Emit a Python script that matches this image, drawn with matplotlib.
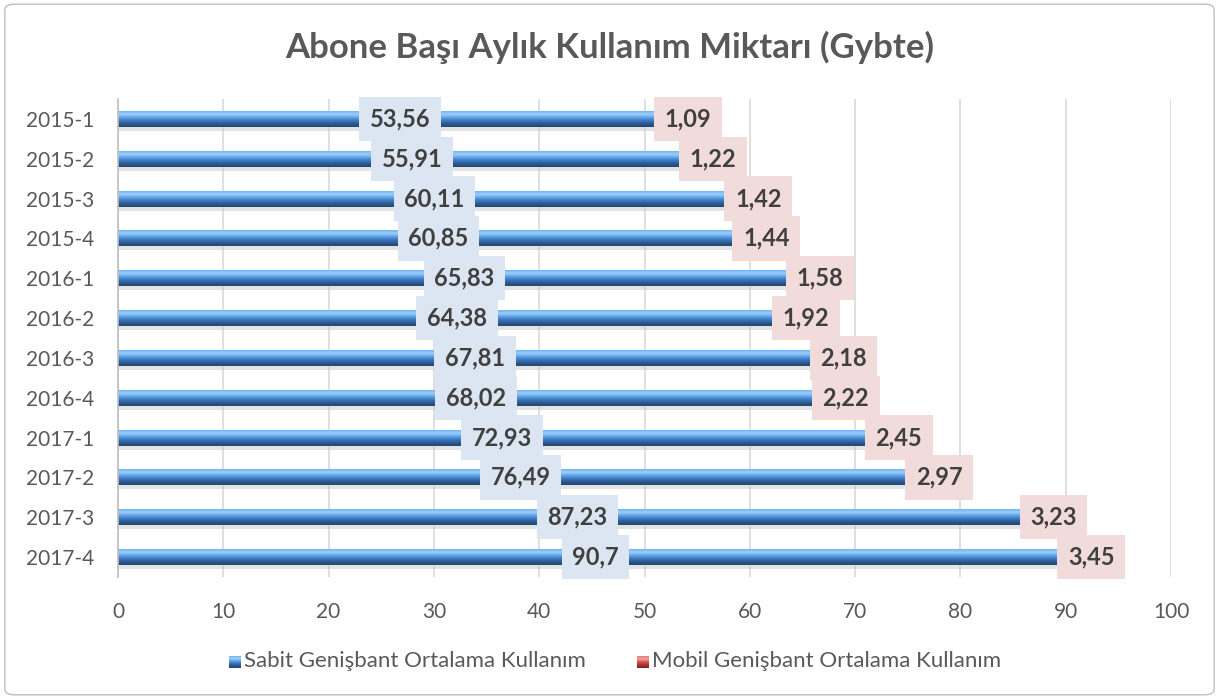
import matplotlib
matplotlib.use("Agg")
import matplotlib.pyplot as plt
import numpy as np
from matplotlib.patches import FancyBboxPatch
from matplotlib.colors import LinearSegmentedColormap

categories = ["2015-1", "2015-2", "2015-3", "2015-4", "2016-1", "2016-2",
              "2016-3", "2016-4", "2017-1", "2017-2", "2017-3", "2017-4"]
sabit = [53.56, 55.91, 60.11, 60.85, 65.83, 64.38, 67.81, 68.02, 72.93, 76.49, 87.23, 90.7]
mobil = [1.09, 1.22, 1.42, 1.44, 1.58, 1.92, 2.18, 2.22, 2.45, 2.97, 3.23, 3.45]
sabit_labels = ["53,56", "55,91", "60,11", "60,85", "65,83", "64,38",
                "67,81", "68,02", "72,93", "76,49", "87,23", "90,7"]
mobil_labels = ["1,09", "1,22", "1,42", "1,44", "1,58", "1,92",
                "2,18", "2,22", "2,45", "2,97", "3,23", "3,45"]
xticks = [0, 10, 20, 30, 40, 50, 60, 70, 80, 90, 100]
title = "Abone Başı Aylık Kullanım Miktarı (Gybte)"
legend_labels = ["Sabit Genişbant Ortalama Kullanım", "Mobil Genişbant Ortalama Kullanım"]

plt.rcParams['font.family'] = ['Lato', 'DejaVu Sans']

fig = plt.figure(figsize=(12.19, 6.99), dpi=100)
W, H = 1219, 699
ax = fig.add_axes([118 / W, 1 - 577 / H, (1171 - 118) / W, (577 - 99) / H])

# figure border
fig.patches.append(FancyBboxPatch((0.004, 0.006), 0.992, 0.988,
                                  boxstyle="round,pad=0,rounding_size=0.008",
                                  transform=fig.transFigure, fill=False,
                                  edgecolor="#bfbfbf", linewidth=1.0))

y = np.arange(len(categories))
bh = 0.40

blue_cmap = LinearSegmentedColormap.from_list(
    "b", ["#6fb3f2", "#9fd0fa", "#5fa2e6", "#3c79c0", "#2b5a92", "#24456e"])
red_cmap = LinearSegmentedColormap.from_list(
    "r", ["#e87a78", "#f4a09e", "#d0504d", "#a83330", "#7a2220"])
grad = np.linspace(0, 1, 64).reshape(-1, 1)

# shadow
ax.barh(y + 0.10, sabit, height=bh, color="#c8c8c8", alpha=0.5, zorder=1.5,
        linewidth=0)
bars = ax.barh(y, sabit, height=bh, color="#4a8cd6", zorder=2, linewidth=0)
mbars = ax.barh(y, mobil, left=sabit, height=bh, color="#c0504d", zorder=2,
                linewidth=0)

for patches, cmap in ((bars, blue_cmap), (mbars, red_cmap)):
    for p in patches:
        x0, y0 = p.get_x(), p.get_y()
        w, h = p.get_width(), p.get_height()
        im = ax.imshow(grad, extent=(x0, x0 + w, y0 + h, y0), aspect="auto",
                       cmap=cmap, zorder=2.1, interpolation="bicubic")
        im.set_clip_path(p)

ax.set_xlim(0, 100)
ax.set_ylim(len(categories) - 0.5, -0.5)
ax.set_xticks(xticks)
ax.set_xticklabels([str(t) for t in xticks])
ax.set_yticks(y)
ax.set_yticklabels(categories)
ax.tick_params(axis="both", length=0, labelsize=15, colors="#595959")
ax.tick_params(axis="x", pad=18)
ax.tick_params(axis="y", pad=17)
ax.xaxis.grid(True, color="#d9d9d9", linewidth=1.2, zorder=0)
ax.set_axisbelow(True)
for s in ["top", "right", "bottom"]:
    ax.spines[s].set_visible(False)
ax.spines["left"].set_color("#bfbfbf")
ax.spines["left"].set_linewidth(1.2)

for i in range(len(categories)):
    ax.text(sabit[i] / 2, y[i], sabit_labels[i], ha="center", va="center",
            fontsize=17, fontweight="bold", color="#404040", zorder=5,
            bbox=dict(boxstyle="square,pad=0.45", facecolor="#dce6f2",
                      edgecolor="none"))
    ax.text(sabit[i] + mobil[i] / 2, y[i], mobil_labels[i], ha="center",
            va="center", fontsize=17, fontweight="bold", color="#404040",
            zorder=5,
            bbox=dict(boxstyle="square,pad=0.45", facecolor="#f2dcdb",
                      edgecolor="none"))

fig.text(0.5, 1 - 47 / H, title, ha="center", va="center", fontsize=25,
         fontweight="bold", color="#595959")

# legend
def legend_item(xpix, label, cmap):
    lax = fig.add_axes([xpix / W, 1 - 668 / H, 12 / W, 12 / H])
    lax.imshow(grad, aspect="auto", cmap=cmap, extent=(0, 1, 1, 0))
    lax.set_axis_off()
    fig.text((xpix + 15) / W, 1 - 661 / H, label, ha="left", va="center",
             fontsize=16, color="#595959")

legend_item(229, legend_labels[0], blue_cmap)
legend_item(637, legend_labels[1], red_cmap)

fig.savefig("out.png", dpi=100)
